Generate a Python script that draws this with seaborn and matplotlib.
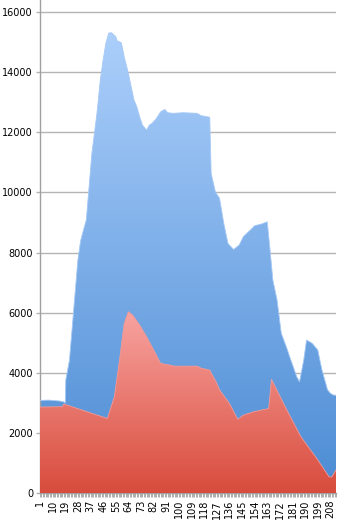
import numpy as np
import matplotlib
matplotlib.use("Agg")
import matplotlib.pyplot as plt
from matplotlib.colors import LinearSegmentedColormap
import seaborn as sns

# ---- data ----
blue_day = [1, 7, 15, 18, 19, 19.4, 22, 24, 26, 28, 30, 32, 34, 36, 38, 41, 42, 44, 46, 48,
            50, 52, 55, 56, 59, 61, 64, 66, 68, 70, 72, 74, 77, 79, 81, 84, 87, 90, 92, 96,
            103, 113, 116, 122, 123, 126, 129, 132, 135, 139, 143, 146, 151, 154, 159, 163,
            165, 167, 170, 173, 177, 179, 184, 186, 189, 191, 195, 199, 202, 206, 208, 210, 212]
blue_val = [3080, 3090, 3060, 3030, 2990, 3760, 4420, 5530, 6640, 7750, 8400, 8750, 9080, 10190,
            11300, 12400, 12800, 13740, 14400, 14970, 15300, 15310, 15180, 15040, 14980, 14510,
            13960, 13510, 13070, 12850, 12520, 12240, 12070, 12240, 12300, 12460, 12680, 12760,
            12650, 12630, 12650, 12630, 12550, 12500, 10630, 10020, 9800, 8970, 8300, 8100, 8250,
            8530, 8750, 8890, 8950, 9020, 8080, 7080, 6420, 5310, 4810, 4530, 3870, 3700, 4420,
            5090, 4980, 4760, 4090, 3430, 3320, 3260, 3250]

red_day = [1, 17, 18, 49, 54, 58, 61, 64, 67, 72, 77, 82, 87, 93, 97, 113, 116, 122, 127,
           129, 136, 142, 146, 153, 163, 164, 166, 177, 187, 199, 207, 209, 212]
red_val = [2860, 2870, 2960, 2480, 3200, 4530, 5640, 6030, 5920, 5590, 5200, 4760, 4310, 4260,
           4220, 4220, 4150, 4090, 3650, 3430, 2980, 2450, 2590, 2700, 2800, 2800, 3780, 2760,
           1870, 1100, 540, 530, 770]

x_tick_days = list(range(1, 213, 9))
y_ticks = list(range(0, 16001, 2000))

sns.set_theme(style="white")
plt.rcParams['font.family'] = ['DejaVu Sans']

fig = plt.figure(figsize=(3.43, 5.2), dpi=100)
ax = fig.add_axes([40/343, 27/520, 296/343, 493/520])

def gradient_area(ax, x, y, c_top, c_bot, vmax, z):
    poly = ax.fill_between(x, y, 0, facecolor='none', edgecolor='none', zorder=z)
    cmap = LinearSegmentedColormap.from_list('g', [c_bot, c_top])
    grad = np.linspace(0, 1, 256).reshape(-1, 1)
    im = ax.imshow(grad, cmap=cmap, aspect='auto', origin='lower',
                   extent=[min(x), max(x), 0, vmax], zorder=z, interpolation='bilinear')
    im.set_clip_path(poly.get_paths()[0], transform=ax.transData)
    return im

# grid
for yv in y_ticks:
    ax.axhline(yv, color='#b4b4b4', lw=1.0, zorder=1)

gradient_area(ax, blue_day, blue_val, '#b0d2fd', '#4c8cd4', 16000, 2)
sns.lineplot(x=blue_day, y=blue_val, ax=ax, color='#a6c9f5', lw=0.6, zorder=3)
gradient_area(ax, red_day, red_val, '#fbaaa8', '#d84c3c', 6500, 4)
sns.lineplot(x=red_day, y=red_val, ax=ax, color='#f29a96', lw=0.6, zorder=5)

ax.set_xlim(1, 212)
ax.set_ylim(0, 16400)

ax.set_yticks(y_ticks)
ax.set_yticklabels([str(v) for v in y_ticks], fontsize=7, color='black')
ax.set_xticks(list(range(1, 213)))
ax.set_xticklabels([str(d) if d in x_tick_days else '' for d in range(1, 213)],
                   rotation=90, fontsize=7, color='black')
ax.tick_params(axis='x', length=3, width=0.6, color='#a0a0a0', pad=2, bottom=True)
ax.tick_params(axis='y', length=3, width=1.0, color='#b4b4b4', pad=2, left=True)

for s in ['top', 'right']:
    ax.spines[s].set_visible(False)
for s in ['left', 'bottom']:
    ax.spines[s].set_color('#a0a0a0')
    ax.spines[s].set_linewidth(1.0)
ax.set_xlabel('')
ax.set_ylabel('')
ax.grid(False)

fig.savefig('out.png', dpi=100)
